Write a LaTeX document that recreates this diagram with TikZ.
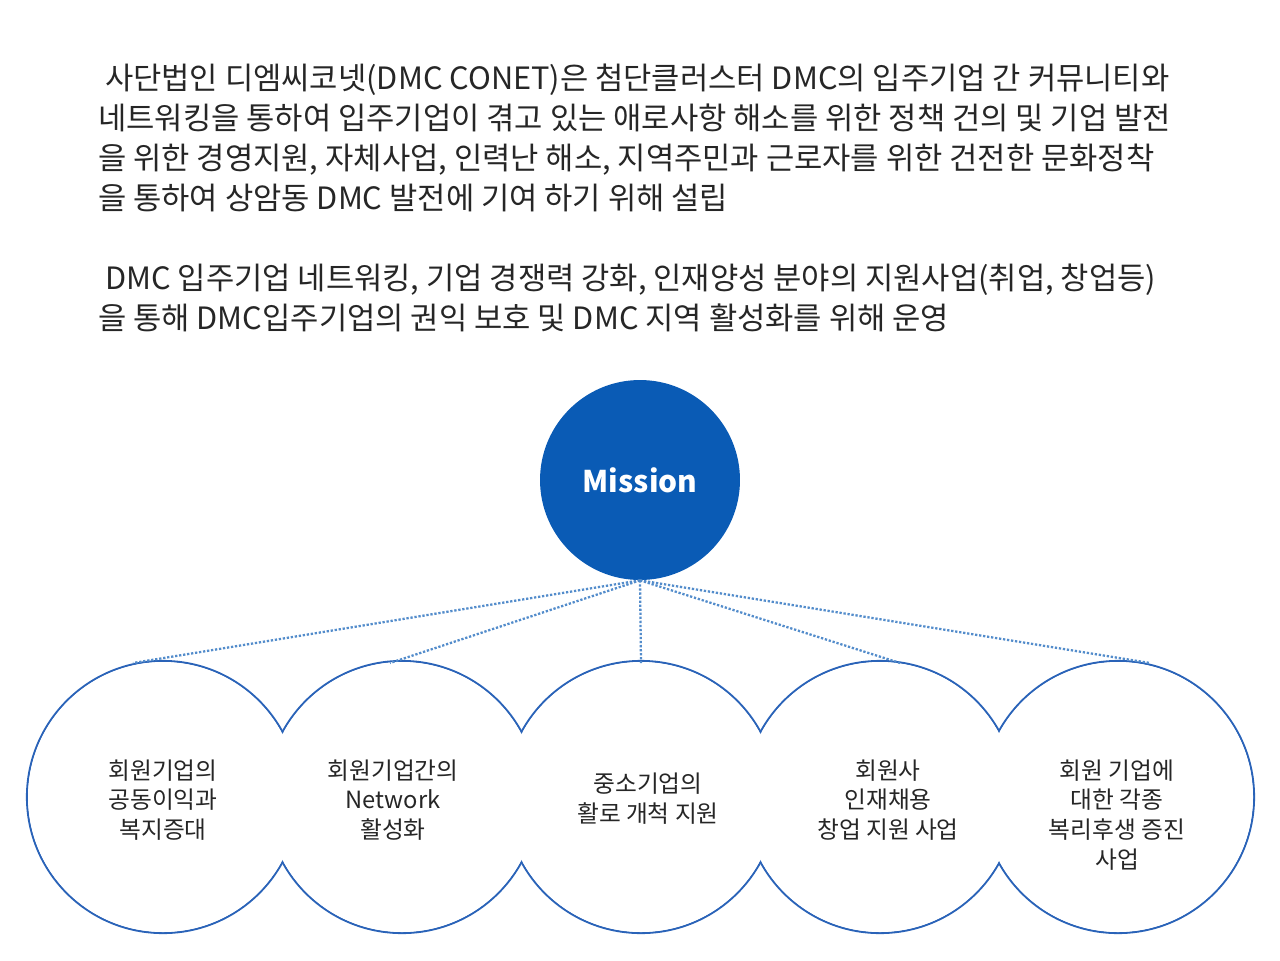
\documentclass[tikz,border=0pt]{standalone}
\usepackage{fontspec}
\setmainfont{Noto Sans CJK KR}
\usetikzlibrary{positioning}
\definecolor{dmcblue}{HTML}{0A5BB5}
\definecolor{ringblue}{HTML}{2A63B8}
\tikzset{
  bodytext/.style={anchor=west, align=left, font=\fontsize{17.5}{22.7}\selectfont, text=black!85},
  ringlabel/.style={align=center, font=\fontsize{13.5}{17}\selectfont, text=black!85},
  dotline/.style={dmcblue!70, densely dotted, line width=1.3pt},
}
\begin{document}
\begin{tikzpicture}[x=0.02cm, y=-0.02cm]
        \useasboundingbox (0,0) rectangle (1280,960);

        \node[bodytext] (intro) at (92,138) {\ 사단법인 디엠씨코넷(DMC CONET)은 첨단클러스터 DMC의 입주기업 간 커뮤니티와\\네트워킹을 통하여 입주기업이 겪고 있는 애로사항 해소를 위한 정책 건의 및 기업 발전\\을 위한 경영지원, 자체사업, 인력난 해소, 지역주민과 근로자를 위한 건전한 문화정착\\을 통하여 상암동 DMC 발전에 기여 하기 위해 설립};
        \node[bodytext] (purpose) at (92,298) {\ DMC 입주기업 네트워킹, 기업 경쟁력 강화, 인재양성 분야의 지원사업(취업, 창업등)\\을 통해 DMC입주기업의 권익 보호 및 DMC 지역 활성화를 위해 운영};

        % ring outline
        \foreach \cx in {163,402,641,880,1118}
            \draw[ringblue, line width=1.2pt] (\cx,797) circle (136);
        \foreach \cx in {163,402,641,880,1118}
            \fill[white] (\cx,797) circle (135);

        \node[circle, fill=dmcblue, minimum size=4cm, inner sep=0pt, text=white, font=\bfseries\fontsize{17}{20}\selectfont] (mission) at (640,480) {Mission};

        \coordinate (top1) at (133,663);
        \coordinate (top2) at (390,663);
        \coordinate (top3) at (641,663);
        \coordinate (top4) at (900,663);
        \coordinate (top5) at (1150,663);

        \draw[dotline] (mission.south) -- (top1);
        \draw[dotline] (mission.south) -- (top2);
        \draw[dotline] (mission.south) -- (top3);
        \draw[dotline] (mission.south) -- (top4);
        \draw[dotline] (mission.south) -- (top5);

        \node[ringlabel] (welfare) at (163,800) {회원기업의\\공동이익과\\복지증대};
        \node[ringlabel] (network) at (393,800) {회원기업간의\\Network\\활성화};
        \node[ringlabel] (market) at (648,799) {중소기업의\\활로 개척 지원};
        \node[ringlabel] (talent) at (888,800) {회원사\\인재채용\\창업 지원 사업};
        \node[ringlabel] (benefit) at (1117,815) {회원 기업에\\대한 각종\\복리후생 증진\\사업};
\end{tikzpicture}
\end{document}
